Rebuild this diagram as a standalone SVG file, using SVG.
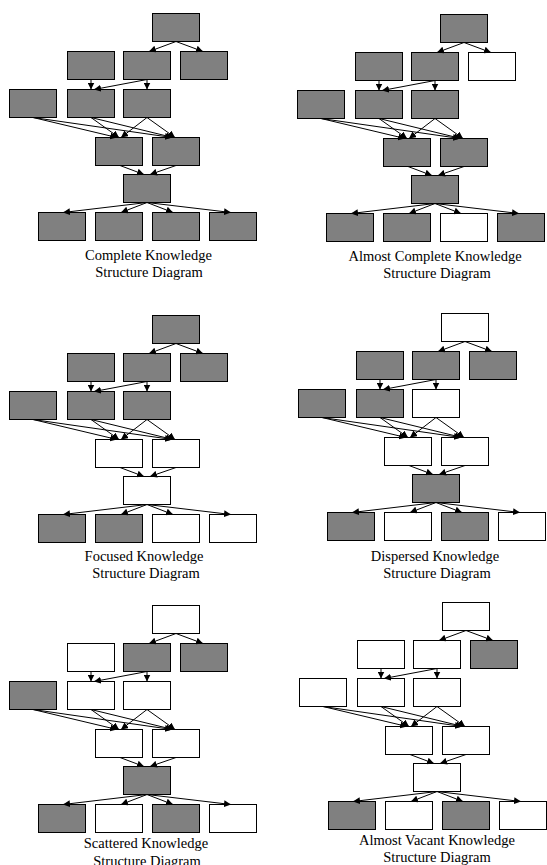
<svg xmlns="http://www.w3.org/2000/svg" width="547" height="865" viewBox="0 0 547 865">
<style>
.g{fill:#808080;stroke:#000;stroke-width:1}
.w{fill:#fff;stroke:#000;stroke-width:1}
.c line{stroke:#000;stroke-width:1;marker-end:url(#ah)}
.cap{font-family:"Liberation Serif","Times New Roman",serif;font-size:14.5px;text-anchor:middle;fill:#000}
</style>
<defs>
<marker id="ah" markerUnits="userSpaceOnUse" markerWidth="8" markerHeight="7" refX="7" refY="3.5" orient="auto">
<path d="M0,0 L7,3.5 L0,7 z" fill="#000"/>
</marker>
</defs>
<rect width="547" height="865" fill="#fff"/>

<!-- Diagram 1 -->
<g id="diagram1" transform="translate(0,0)">
<g id="d1-T"><rect class="g" x="152.5" y="13.5" width="47" height="28"/></g>
<g id="d1-A1"><rect class="g" x="67.5" y="51.5" width="47" height="28"/></g>
<g id="d1-A2"><rect class="g" x="123.5" y="51.5" width="47" height="28"/></g>
<g id="d1-A3"><rect class="g" x="180.5" y="51.5" width="47" height="28"/></g>
<g id="d1-B1"><rect class="g" x="9.5" y="89.5" width="47" height="28"/></g>
<g id="d1-B2"><rect class="g" x="67.5" y="89.5" width="47" height="28"/></g>
<g id="d1-B3"><rect class="g" x="123.5" y="89.5" width="47" height="28"/></g>
<g id="d1-C1"><rect class="g" x="95.5" y="137.5" width="47" height="28"/></g>
<g id="d1-C2"><rect class="g" x="152.5" y="137.5" width="47" height="28"/></g>
<g id="d1-D"><rect class="g" x="123.5" y="174.5" width="47" height="28"/></g>
<g id="d1-E1"><rect class="g" x="38.5" y="212.5" width="47" height="28"/></g>
<g id="d1-E2"><rect class="g" x="95.5" y="212.5" width="47" height="28"/></g>
<g id="d1-E3"><rect class="g" x="152.5" y="212.5" width="47" height="28"/></g>
<g id="d1-E4"><rect class="g" x="209.5" y="212.5" width="47" height="28"/></g>
<g id="d1-connectors" class="c">
<line x1="176" y1="41.5" x2="149" y2="51.5"/><line x1="176" y1="41.5" x2="203" y2="51.5"/>
<line x1="91" y1="79.5" x2="91" y2="89.5"/><line x1="147" y1="79.5" x2="94" y2="89.5"/><line x1="147" y1="79.5" x2="147" y2="89.5"/>
<line x1="33" y1="117.5" x2="117" y2="137.5"/><line x1="33" y1="117.5" x2="172" y2="137.5"/>
<line x1="91" y1="117.5" x2="119" y2="137.5"/><line x1="91" y1="117.5" x2="173" y2="137.5"/>
<line x1="147" y1="117.5" x2="121" y2="137.5"/><line x1="147" y1="117.5" x2="175" y2="137.5"/>
<line x1="120" y1="165.5" x2="144" y2="174.5"/><line x1="176" y1="165.5" x2="150" y2="174.5"/>
<line x1="147" y1="202.5" x2="63" y2="212.5"/><line x1="147" y1="202.5" x2="121" y2="212.5"/>
<line x1="147" y1="202.5" x2="173" y2="212.5"/><line x1="147" y1="202.5" x2="231" y2="212.5"/>
</g>
</g>

<!-- Diagram 2 -->
<g id="diagram2" transform="translate(288,1)">
<g id="d2-T"><rect class="g" x="152.5" y="13.5" width="47" height="28"/></g>
<g id="d2-A1"><rect class="g" x="67.5" y="51.5" width="47" height="28"/></g>
<g id="d2-A2"><rect class="g" x="123.5" y="51.5" width="47" height="28"/></g>
<g id="d2-A3"><rect class="w" x="180.5" y="51.5" width="47" height="28"/></g>
<g id="d2-B1"><rect class="g" x="9.5" y="89.5" width="47" height="28"/></g>
<g id="d2-B2"><rect class="g" x="67.5" y="89.5" width="47" height="28"/></g>
<g id="d2-B3"><rect class="g" x="123.5" y="89.5" width="47" height="28"/></g>
<g id="d2-C1"><rect class="g" x="95.5" y="137.5" width="47" height="28"/></g>
<g id="d2-C2"><rect class="g" x="152.5" y="137.5" width="47" height="28"/></g>
<g id="d2-D"><rect class="g" x="123.5" y="174.5" width="47" height="28"/></g>
<g id="d2-E1"><rect class="g" x="38.5" y="212.5" width="47" height="28"/></g>
<g id="d2-E2"><rect class="g" x="95.5" y="212.5" width="47" height="28"/></g>
<g id="d2-E3"><rect class="w" x="152.5" y="212.5" width="47" height="28"/></g>
<g id="d2-E4"><rect class="g" x="209.5" y="212.5" width="47" height="28"/></g>
<g id="d2-connectors" class="c">
<line x1="176" y1="41.5" x2="149" y2="51.5"/><line x1="176" y1="41.5" x2="203" y2="51.5"/>
<line x1="91" y1="79.5" x2="91" y2="89.5"/><line x1="147" y1="79.5" x2="94" y2="89.5"/><line x1="147" y1="79.5" x2="147" y2="89.5"/>
<line x1="33" y1="117.5" x2="117" y2="137.5"/><line x1="33" y1="117.5" x2="172" y2="137.5"/>
<line x1="91" y1="117.5" x2="119" y2="137.5"/><line x1="91" y1="117.5" x2="173" y2="137.5"/>
<line x1="147" y1="117.5" x2="121" y2="137.5"/><line x1="147" y1="117.5" x2="175" y2="137.5"/>
<line x1="120" y1="165.5" x2="144" y2="174.5"/><line x1="176" y1="165.5" x2="150" y2="174.5"/>
<line x1="147" y1="202.5" x2="63" y2="212.5"/><line x1="147" y1="202.5" x2="121" y2="212.5"/>
<line x1="147" y1="202.5" x2="173" y2="212.5"/><line x1="147" y1="202.5" x2="231" y2="212.5"/>
</g>
</g>

<!-- Diagram 3 -->
<g id="diagram3" transform="translate(0,302)">
<g id="d3-T"><rect class="g" x="152.5" y="13.5" width="47" height="28"/></g>
<g id="d3-A1"><rect class="g" x="67.5" y="51.5" width="47" height="28"/></g>
<g id="d3-A2"><rect class="g" x="123.5" y="51.5" width="47" height="28"/></g>
<g id="d3-A3"><rect class="g" x="180.5" y="51.5" width="47" height="28"/></g>
<g id="d3-B1"><rect class="g" x="9.5" y="89.5" width="47" height="28"/></g>
<g id="d3-B2"><rect class="g" x="67.5" y="89.5" width="47" height="28"/></g>
<g id="d3-B3"><rect class="g" x="123.5" y="89.5" width="47" height="28"/></g>
<g id="d3-C1"><rect class="w" x="95.5" y="137.5" width="47" height="28"/></g>
<g id="d3-C2"><rect class="w" x="152.5" y="137.5" width="47" height="28"/></g>
<g id="d3-D"><rect class="w" x="123.5" y="174.5" width="47" height="28"/></g>
<g id="d3-E1"><rect class="g" x="38.5" y="212.5" width="47" height="28"/></g>
<g id="d3-E2"><rect class="g" x="95.5" y="212.5" width="47" height="28"/></g>
<g id="d3-E3"><rect class="w" x="152.5" y="212.5" width="47" height="28"/></g>
<g id="d3-E4"><rect class="w" x="209.5" y="212.5" width="47" height="28"/></g>
<g id="d3-connectors" class="c">
<line x1="176" y1="41.5" x2="149" y2="51.5"/><line x1="176" y1="41.5" x2="203" y2="51.5"/>
<line x1="91" y1="79.5" x2="91" y2="89.5"/><line x1="147" y1="79.5" x2="94" y2="89.5"/><line x1="147" y1="79.5" x2="147" y2="89.5"/>
<line x1="33" y1="117.5" x2="117" y2="137.5"/><line x1="33" y1="117.5" x2="172" y2="137.5"/>
<line x1="91" y1="117.5" x2="119" y2="137.5"/><line x1="91" y1="117.5" x2="173" y2="137.5"/>
<line x1="147" y1="117.5" x2="121" y2="137.5"/><line x1="147" y1="117.5" x2="175" y2="137.5"/>
<line x1="120" y1="165.5" x2="144" y2="174.5"/><line x1="176" y1="165.5" x2="150" y2="174.5"/>
<line x1="147" y1="202.5" x2="63" y2="212.5"/><line x1="147" y1="202.5" x2="121" y2="212.5"/>
<line x1="147" y1="202.5" x2="173" y2="212.5"/><line x1="147" y1="202.5" x2="231" y2="212.5"/>
</g>
</g>

<!-- Diagram 4 -->
<g id="diagram4" transform="translate(289,300)">
<g id="d4-T"><rect class="w" x="152.5" y="13.5" width="47" height="28"/></g>
<g id="d4-A1"><rect class="g" x="67.5" y="51.5" width="47" height="28"/></g>
<g id="d4-A2"><rect class="g" x="123.5" y="51.5" width="47" height="28"/></g>
<g id="d4-A3"><rect class="g" x="180.5" y="51.5" width="47" height="28"/></g>
<g id="d4-B1"><rect class="g" x="9.5" y="89.5" width="47" height="28"/></g>
<g id="d4-B2"><rect class="g" x="67.5" y="89.5" width="47" height="28"/></g>
<g id="d4-B3"><rect class="w" x="123.5" y="89.5" width="47" height="28"/></g>
<g id="d4-C1"><rect class="w" x="95.5" y="137.5" width="47" height="28"/></g>
<g id="d4-C2"><rect class="w" x="152.5" y="137.5" width="47" height="28"/></g>
<g id="d4-D"><rect class="g" x="123.5" y="174.5" width="47" height="28"/></g>
<g id="d4-E1"><rect class="g" x="38.5" y="212.5" width="47" height="28"/></g>
<g id="d4-E2"><rect class="w" x="95.5" y="212.5" width="47" height="28"/></g>
<g id="d4-E3"><rect class="g" x="152.5" y="212.5" width="47" height="28"/></g>
<g id="d4-E4"><rect class="w" x="209.5" y="212.5" width="47" height="28"/></g>
<g id="d4-connectors" class="c">
<line x1="176" y1="41.5" x2="149" y2="51.5"/><line x1="176" y1="41.5" x2="203" y2="51.5"/>
<line x1="91" y1="79.5" x2="91" y2="89.5"/><line x1="147" y1="79.5" x2="94" y2="89.5"/><line x1="147" y1="79.5" x2="147" y2="89.5"/>
<line x1="33" y1="117.5" x2="117" y2="137.5"/><line x1="33" y1="117.5" x2="172" y2="137.5"/>
<line x1="91" y1="117.5" x2="119" y2="137.5"/><line x1="91" y1="117.5" x2="173" y2="137.5"/>
<line x1="147" y1="117.5" x2="121" y2="137.5"/><line x1="147" y1="117.5" x2="175" y2="137.5"/>
<line x1="120" y1="165.5" x2="144" y2="174.5"/><line x1="176" y1="165.5" x2="150" y2="174.5"/>
<line x1="147" y1="202.5" x2="63" y2="212.5"/><line x1="147" y1="202.5" x2="121" y2="212.5"/>
<line x1="147" y1="202.5" x2="173" y2="212.5"/><line x1="147" y1="202.5" x2="231" y2="212.5"/>
</g>
</g>

<!-- Diagram 5 -->
<g id="diagram5" transform="translate(0,592)">
<g id="d5-T"><rect class="w" x="152.5" y="13.5" width="47" height="28"/></g>
<g id="d5-A1"><rect class="w" x="67.5" y="51.5" width="47" height="28"/></g>
<g id="d5-A2"><rect class="g" x="123.5" y="51.5" width="47" height="28"/></g>
<g id="d5-A3"><rect class="g" x="180.5" y="51.5" width="47" height="28"/></g>
<g id="d5-B1"><rect class="g" x="9.5" y="89.5" width="47" height="28"/></g>
<g id="d5-B2"><rect class="w" x="67.5" y="89.5" width="47" height="28"/></g>
<g id="d5-B3"><rect class="w" x="123.5" y="89.5" width="47" height="28"/></g>
<g id="d5-C1"><rect class="w" x="95.5" y="137.5" width="47" height="28"/></g>
<g id="d5-C2"><rect class="w" x="152.5" y="137.5" width="47" height="28"/></g>
<g id="d5-D"><rect class="g" x="123.5" y="174.5" width="47" height="28"/></g>
<g id="d5-E1"><rect class="g" x="38.5" y="212.5" width="47" height="28"/></g>
<g id="d5-E2"><rect class="w" x="95.5" y="212.5" width="47" height="28"/></g>
<g id="d5-E3"><rect class="g" x="152.5" y="212.5" width="47" height="28"/></g>
<g id="d5-E4"><rect class="w" x="209.5" y="212.5" width="47" height="28"/></g>
<g id="d5-connectors" class="c">
<line x1="176" y1="41.5" x2="149" y2="51.5"/><line x1="176" y1="41.5" x2="203" y2="51.5"/>
<line x1="91" y1="79.5" x2="91" y2="89.5"/><line x1="147" y1="79.5" x2="94" y2="89.5"/><line x1="147" y1="79.5" x2="147" y2="89.5"/>
<line x1="33" y1="117.5" x2="117" y2="137.5"/><line x1="33" y1="117.5" x2="172" y2="137.5"/>
<line x1="91" y1="117.5" x2="119" y2="137.5"/><line x1="91" y1="117.5" x2="173" y2="137.5"/>
<line x1="147" y1="117.5" x2="121" y2="137.5"/><line x1="147" y1="117.5" x2="175" y2="137.5"/>
<line x1="120" y1="165.5" x2="144" y2="174.5"/><line x1="176" y1="165.5" x2="150" y2="174.5"/>
<line x1="147" y1="202.5" x2="63" y2="212.5"/><line x1="147" y1="202.5" x2="121" y2="212.5"/>
<line x1="147" y1="202.5" x2="173" y2="212.5"/><line x1="147" y1="202.5" x2="231" y2="212.5"/>
</g>
</g>

<!-- Diagram 6 -->
<g id="diagram6" transform="translate(290,589)">
<g id="d6-T"><rect class="w" x="152.5" y="13.5" width="47" height="28"/></g>
<g id="d6-A1"><rect class="w" x="67.5" y="51.5" width="47" height="28"/></g>
<g id="d6-A2"><rect class="w" x="123.5" y="51.5" width="47" height="28"/></g>
<g id="d6-A3"><rect class="g" x="180.5" y="51.5" width="47" height="28"/></g>
<g id="d6-B1"><rect class="w" x="9.5" y="89.5" width="47" height="28"/></g>
<g id="d6-B2"><rect class="w" x="67.5" y="89.5" width="47" height="28"/></g>
<g id="d6-B3"><rect class="w" x="123.5" y="89.5" width="47" height="28"/></g>
<g id="d6-C1"><rect class="w" x="95.5" y="137.5" width="47" height="28"/></g>
<g id="d6-C2"><rect class="w" x="152.5" y="137.5" width="47" height="28"/></g>
<g id="d6-D"><rect class="w" x="123.5" y="174.5" width="47" height="28"/></g>
<g id="d6-E1"><rect class="g" x="38.5" y="212.5" width="47" height="28"/></g>
<g id="d6-E2"><rect class="w" x="95.5" y="212.5" width="47" height="28"/></g>
<g id="d6-E3"><rect class="g" x="152.5" y="212.5" width="47" height="28"/></g>
<g id="d6-E4"><rect class="w" x="209.5" y="212.5" width="47" height="28"/></g>
<g id="d6-connectors" class="c">
<line x1="176" y1="41.5" x2="149" y2="51.5"/><line x1="176" y1="41.5" x2="203" y2="51.5"/>
<line x1="91" y1="79.5" x2="91" y2="89.5"/><line x1="147" y1="79.5" x2="94" y2="89.5"/><line x1="147" y1="79.5" x2="147" y2="89.5"/>
<line x1="33" y1="117.5" x2="117" y2="137.5"/><line x1="33" y1="117.5" x2="172" y2="137.5"/>
<line x1="91" y1="117.5" x2="119" y2="137.5"/><line x1="91" y1="117.5" x2="173" y2="137.5"/>
<line x1="147" y1="117.5" x2="121" y2="137.5"/><line x1="147" y1="117.5" x2="175" y2="137.5"/>
<line x1="120" y1="165.5" x2="144" y2="174.5"/><line x1="176" y1="165.5" x2="150" y2="174.5"/>
<line x1="147" y1="202.5" x2="63" y2="212.5"/><line x1="147" y1="202.5" x2="121" y2="212.5"/>
<line x1="147" y1="202.5" x2="173" y2="212.5"/><line x1="147" y1="202.5" x2="231" y2="212.5"/>
</g>
</g>

<!-- Captions -->
<g id="captions">
<text class="cap" x="148.5" y="260">Complete Knowledge</text>
<text class="cap" x="149" y="276.5">Structure Diagram</text>
<text class="cap" x="435" y="261">Almost Complete Knowledge</text>
<text class="cap" x="437" y="277.5">Structure Diagram</text>
<text class="cap" x="144" y="561">Focused Knowledge</text>
<text class="cap" x="146" y="577.5">Structure Diagram</text>
<text class="cap" x="435" y="561">Dispersed Knowledge</text>
<text class="cap" x="437" y="577.5">Structure Diagram</text>
<text class="cap" x="146" y="848">Scattered Knowledge</text>
<text class="cap" x="147" y="866">Structure Diagram</text>
<text class="cap" x="437" y="845">Almost Vacant Knowledge</text>
<text class="cap" x="437" y="861.5">Structure Diagram</text>
</g>
</svg>
